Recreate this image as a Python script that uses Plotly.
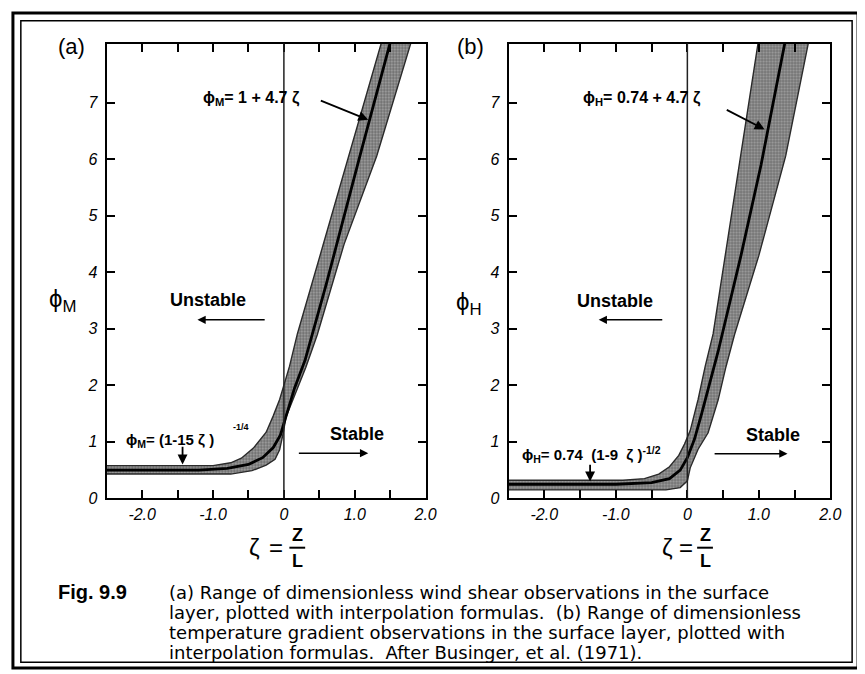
import plotly.graph_objects as go

W, H = 865, 674

# ---------------- data ----------------
# Panel (a): phi_M
zeta_a_upper = [-2.5, -1.0, -0.75, -0.6, -0.43, -0.25, -0.15, -0.06, 0.08, 0.19, 0.55, 0.92, 1.375, 1.43]
phi_a_upper = [0.58, 0.58, 0.63, 0.71, 0.89, 1.17, 1.46, 1.75, 2.34, 2.91, 4.47, 6.06, 8.05, 8.3]
zeta_a_lower = [-2.5, -0.75, -0.45, -0.25, -0.125, -0.06, -0.01, 0.03, 0.125, 0.31, 0.47, 0.85, 1.31, 1.79, 1.85]
phi_a_lower = [0.43, 0.43, 0.49, 0.59, 0.69, 0.86, 1.15, 1.44, 1.73, 2.32, 2.89, 4.5, 6.06, 8.05, 8.3]
zeta_a_center = [-2.5, -1.2, -0.8, -0.5, -0.3, -0.15, -0.05, 0.0, 0.05, 0.15, 0.3, 0.6, 1.06, 1.49, 1.55]
phi_a_center = [0.5, 0.5, 0.53, 0.6, 0.72, 0.9, 1.12, 1.33, 1.55, 1.95, 2.45, 3.8, 6.0, 8.05, 8.3]

# Panel (b): phi_H
zeta_b_upper = [-2.5, -0.9, -0.6, -0.4, -0.25, -0.12, -0.04, 0.04, 0.15, 0.25, 0.36, 0.74, 0.98, 1.03]
phi_b_upper = [0.32, 0.32, 0.35, 0.43, 0.56, 0.76, 0.96, 1.2, 1.75, 2.34, 2.91, 6.06, 8.05, 8.4]
zeta_b_lower = [-2.5, -0.3, -0.1, 0.0, 0.04, 0.15, 0.29, 0.43, 0.54, 0.66, 1.0, 1.375, 1.69, 1.74]
phi_b_lower = [0.15, 0.15, 0.19, 0.31, 0.54, 0.87, 1.16, 1.74, 2.33, 2.9, 4.3, 6.06, 8.05, 8.4]
zeta_b_center = [-2.5, -1.0, -0.5, -0.25, -0.1, 0.0, 0.1, 0.2, 0.43, 0.75, 1.03, 1.36, 1.4]
phi_b_center = [0.25, 0.25, 0.28, 0.35, 0.5, 0.72, 1.05, 1.5, 2.6, 4.3, 5.9, 8.05, 8.3]

x_tickvals = [-2.0, -1.0, 0.0, 1.0, 2.0]
x_ticktext = ["-2.0", "-1.0", "0", "1.0", "2.0"]
x_minor_step = 0.5
y_tickvals = [0, 1, 2, 3, 4, 5, 6, 7]
y_ticktext = ["0", "1", "2", "3", "4", "5", "6", "7"]

caption_label = "Fig. 9.9"
caption_lines = [
    "(a) Range of dimensionless wind shear observations in the surface",
    "layer, plotted with interpolation formulas.  (b) Range of dimensionless",
    "temperature gradient observations in the surface layer, plotted with",
    "interpolation formulas.  After Businger, et al. (1971).",
]

# ---------------- helpers ----------------
def px(x):
    return x / W

def py(y):
    return 1 - y / H

FONT = "Liberation Sans, Arial, sans-serif"
CAPFONT = "DejaVu Sans, Liberation Sans, sans-serif"

fig = go.Figure()

def add_panel(xa, ya, zu, pu, zl, pl, zc, pc):
    poly_x = list(zu) + list(reversed(zl))
    poly_y = list(pu) + list(reversed(pl))
    fig.add_trace(go.Scatter(
        x=poly_x, y=poly_y, xaxis=xa, yaxis=ya, mode="lines",
        fill="toself", fillcolor="#8a8a8a",
        fillpattern=dict(shape=".", bgcolor="#a9a9a9", fgcolor="#1e1e1e", size=3, solidity=0.5),
        line=dict(color="#2a2a2a", width=1.4), hoverinfo="skip", showlegend=False))
    fig.add_trace(go.Scatter(
        x=zc, y=pc, xaxis=xa, yaxis=ya, mode="lines",
        line=dict(color="black", width=2.8), hoverinfo="skip", showlegend=False))

add_panel("x", "y", zeta_a_upper, phi_a_upper, zeta_a_lower, phi_a_lower, zeta_a_center, phi_a_center)
add_panel("x2", "y2", zeta_b_upper, phi_b_upper, zeta_b_lower, phi_b_lower, zeta_b_center, phi_b_center)

axis_common = dict(showline=True, linecolor="black", linewidth=2, mirror="ticks",
                   ticks="inside", ticklen=8, tickwidth=2, tickcolor="black",
                   showgrid=False, zeroline=False,
                   tickfont=dict(family=FONT, size=16, color="black", style="italic"))
x_minor = dict(tick0=-2.5, dtick=x_minor_step, ticks="inside", ticklen=8, tickwidth=2,
               tickcolor="black", showgrid=False)

fig.update_layout(
    width=W, height=H, autosize=False,
    margin=dict(l=0, r=0, t=0, b=0),
    paper_bgcolor="white", plot_bgcolor="white",
    xaxis=dict(domain=[px(100), px(423)], range=[-2.5, 2.0], anchor="y",
               tickvals=x_tickvals, ticktext=x_ticktext, minor=x_minor, **axis_common),
    yaxis=dict(domain=[py(497), py(36)], range=[0, 8.05], anchor="x",
               tickvals=y_tickvals, ticktext=y_ticktext, ticklabelstandoff=4, **axis_common),
    xaxis2=dict(domain=[px(507), px(833)], range=[-2.5, 2.0], anchor="y2",
                tickvals=x_tickvals, ticktext=x_ticktext, minor=x_minor, **axis_common),
    yaxis2=dict(domain=[py(497), py(36)], range=[0, 8.05], anchor="x2",
                tickvals=y_tickvals, ticktext=y_ticktext, ticklabelstandoff=4, **axis_common),
)

shapes = []
# vertical zeta = 0 lines
for xr, yr in (("x", "y domain"), ("x2", "y2 domain")):
    shapes.append(dict(type="line", xref=xr, yref=yr, x0=0, x1=0, y0=0, y1=1,
                       line=dict(color="#222", width=1.5), layer="above"))
# double frame
shapes.append(dict(type="rect", xref="paper", yref="paper", x0=px(5), x1=px(861), y0=py(669), y1=py(5),
                   line=dict(color="black", width=3)))
shapes.append(dict(type="rect", xref="paper", yref="paper", x0=px(13), x1=px(855), y0=py(663), y1=py(13),
                   line=dict(color="black", width=1.5)))
# fraction bars for z/L
for cx in (293, 706):
    shapes.append(dict(type="line", xref="paper", yref="paper", x0=px(cx - 8), x1=px(cx + 8),
                       y0=py(547), y1=py(547), line=dict(color="black", width=2)))
fig.update_layout(shapes=shapes)

ann = []

def text(x, y, s, size=15, bold=False, xanchor="center", family=FONT):
    ann.append(dict(xref="paper", yref="paper", x=px(x), y=py(y), text=(f"<b>{s}</b>" if bold else s),
                    showarrow=False, xanchor=xanchor, yanchor="middle",
                    font=dict(family=family, size=size, color="black")))

def arrow(xr, yr, x_tail, y_tail, x_tip, y_tip, width=1.8):
    ann.append(dict(xref=xr, yref=yr, axref=xr, ayref=yr, x=x_tip, y=y_tip, ax=x_tail, ay=y_tail,
                    text="", showarrow=True, arrowhead=2, arrowsize=1.1, arrowwidth=width,
                    arrowcolor="black"))

# panel labels
text(64, 39, "(a)", size=22)
text(468, 39, "(b)", size=22)

# panel (a) annotations
text(195, 92, "ϕ<sub>M</sub>= 1 + 4.7 ζ", size=16, bold=True, xanchor="left")
arrow("x", "y", 0.5, 7.05, 1.19, 6.70)
text(203, 296, "Unstable", size=18, bold=True)
arrow("x", "y", -0.25, 3.16, -1.22, 3.16, width=1.5)
text(353, 432, "Stable", size=18, bold=True)
arrow("x", "y", 0.19, 0.80, 1.19, 0.80, width=1.5)
text(118, 438, "ϕ<sub>M</sub>= (1-15 ζ )", size=15, bold=True, xanchor="left")
text(236, 425, "-1/4", size=9, bold=True)
arrow("x", "y", -1.43, 0.94, -1.43, 0.60)
text(55, 296, "ϕ<sub>M</sub>", size=24)

# panel (b) annotations
text(580, 92, "ϕ<sub>H</sub>= 0.74 + 4.7 ζ", size=16, bold=True, xanchor="left")
arrow("x2", "y2", 0.53, 6.89, 1.08, 6.53)
text(615, 297, "Unstable", size=18, bold=True)
arrow("x2", "y2", -0.33, 3.16, -1.24, 3.16, width=1.5)
text(775, 433, "Stable", size=18, bold=True)
arrow("x2", "y2", 0.36, 0.79, 1.40, 0.79, width=1.5)
text(519, 453, "ϕ<sub>H</sub>= 0.74  (1-9  ζ )<sup>-1/2</sup>", size=15, bold=True, xanchor="left")
arrow("x2", "y2", -1.36, 0.62, -1.36, 0.30)
text(467, 300, "ϕ<sub>H</sub>", size=24)

# x-axis titles zeta = z/L
for zx, ex, fx in ((250, 271, 293), (668, 687, 706)):
    text(zx, 547, "ζ", size=24)
    text(ex, 547, "=", size=24)
    text(fx, 534, "<b>Z</b>", size=18)
    text(fx, 560, "<b>L</b>", size=18)

# caption
text(49, 592, caption_label, size=20, bold=True, xanchor="left")
for i, line in enumerate(caption_lines):
    text(161, 592 + i * 20.4, line, size=18, xanchor="left", family=CAPFONT)

fig.update_layout(annotations=ann)
fig.write_html("out.html")
